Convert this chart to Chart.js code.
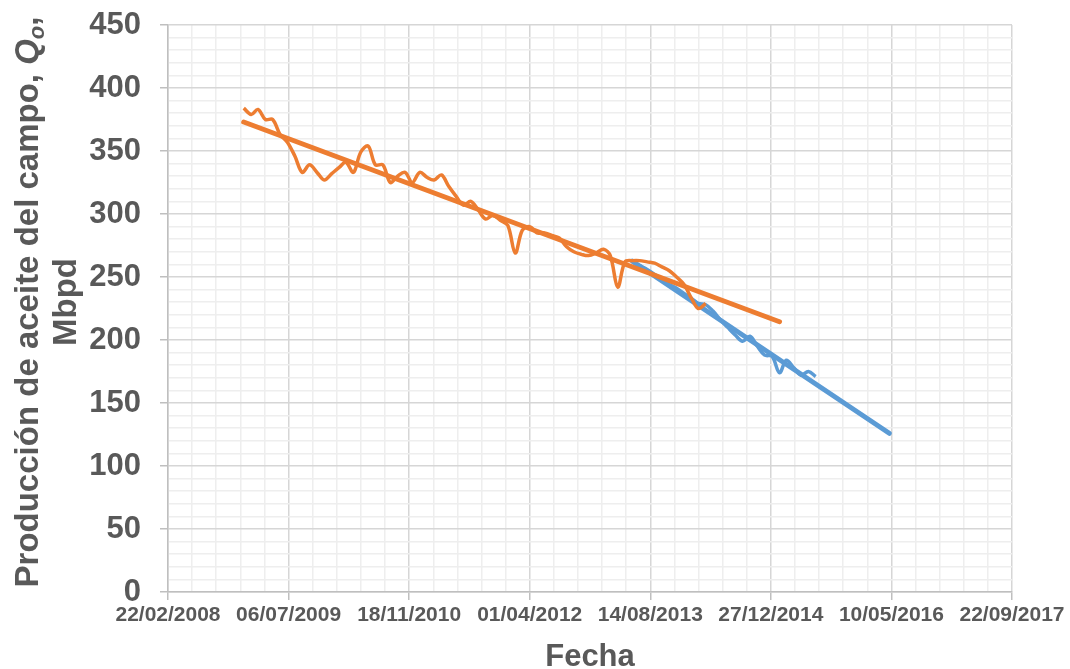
<!DOCTYPE html>
<html lang="es">
<head>
<meta charset="utf-8">
<title>Producción de aceite del campo</title>
<script src="https://cdn.jsdelivr.net/npm/chart.js@4.4.1/dist/chart.umd.min.js"></script>
<style>
    html, body { margin: 0; padding: 0; background: #fff; }
    #wrap { width: 1070px; height: 669px; }
</style>
</head>
<body>
<div id="wrap"><canvas id="prodChart" width="1070" height="669"></canvas></div>
<script>
/* ---------- ejes ---------- */
const xTickLabels = [
    "22/02/2008", "06/07/2009", "18/11/2010", "01/04/2012",
    "14/08/2013", "27/12/2014", "10/05/2016", "22/09/2017"
];
const yTicks = [0, 50, 100, 150, 200, 250, 300, 350, 400, 450];

/* ---------- producción mensual (Mbpd) ---------- */
const histMonths = [
    "2009-01", "2009-02", "2009-03", "2009-04", "2009-05", "2009-06", "2009-07", "2009-08", "2009-09", "2009-10", "2009-11", "2009-12",
    "2010-01", "2010-02", "2010-03", "2010-04", "2010-05", "2010-06", "2010-07", "2010-08", "2010-09", "2010-10", "2010-11", "2010-12",
    "2011-01", "2011-02", "2011-03", "2011-04", "2011-05", "2011-06", "2011-07", "2011-08", "2011-09", "2011-10", "2011-11", "2011-12",
    "2012-01", "2012-02", "2012-03", "2012-04", "2012-05", "2012-06", "2012-07", "2012-08", "2012-09", "2012-10", "2012-11", "2012-12",
    "2013-01", "2013-02", "2013-03", "2013-04", "2013-05", "2013-06", "2013-07", "2013-08", "2013-09", "2013-10", "2013-11", "2013-12",
    "2014-01", "2014-02", "2014-03", "2014-04"
];
const histValues = [
    384, 379, 383, 375, 375, 363, 357, 346, 333, 339, 333, 327,
    332, 337, 341, 333, 349, 354, 339, 339, 325, 330, 333, 325,
    333, 329, 327, 331, 322, 314, 307, 310, 303, 296, 299, 295,
    291, 269, 287, 290, 285, 285, 283, 281, 274, 270, 268, 267,
    269, 272, 267, 242, 262, 263, 263, 262, 261, 258, 255, 250,
    244, 233, 225, 229
];

const recentMonths = [
    "2013-06", "2013-07", "2013-08", "2013-09", "2013-10", "2013-11", "2013-12",
    "2014-01", "2014-02", "2014-03", "2014-04", "2014-05", "2014-06", "2014-07", "2014-08", "2014-09", "2014-10", "2014-11", "2014-12",
    "2015-01", "2015-02", "2015-03", "2015-04", "2015-05", "2015-06", "2015-07"
];
const recentValues = [
    262, 259, 256, 252, 248, 244, 241,
    237, 233, 229, 228, 223, 216, 210, 204, 199, 203, 195, 188,
    187, 174, 184, 178, 172, 175, 171
];

/* ---------- tendencias lineales ---------- */
const histTrendDates = ["2009-01-01", "2015-02-01"];
const histTrendValues = [373, 214.5];

const recentTrendDates = ["2013-06-01", "2016-05-01"];
const recentTrendValues = [262.5, 126];

/* ---------- estilo ---------- */
const ORANGE = "#ED7D31";
const BLUE = "#5B9BD5";
const TEXT = "#595959";
const FONT = '"Liberation Sans", Arial, sans-serif';

/* ---------- utilidades ---------- */
function dmy(s) {
    const [d, m, y] = s.split("/").map(Number);
    return Date.UTC(y, m - 1, d);
}

function ymd(s) {
    const [y, m, d] = s.split("-").map(Number);
    return Date.UTC(y, m - 1, d || 1);
}

function toPoints(dates, values) {
    return dates.map((d, i) => ({ x: ymd(d), y: values[i] }));
}

// marcas principales + divisiones menores entre cada par
function withMinor(mainValues, parts) {
    const ticks = [];
    mainValues.forEach((v, i) => {
        ticks.push({ value: v, main: true });
        if (i < mainValues.length - 1) {
            const step = (mainValues[i + 1] - v) / parts;
            for (let k = 1; k < parts; k++) ticks.push({ value: v + step * k, main: false });
        }
    });
    return ticks;
}

const gridStyle = {
    color: c => (c.tick && c.tick.main ? "#d6d6d6" : "#eeeeee"),
    lineWidth: 1.5,
    tickColor: c => (c.tick && c.tick.main ? "#bfbfbf" : "rgba(0,0,0,0)"),
    tickLength: 8
};

// el área de trazado la fija layout.padding, no el tamaño de las etiquetas
function fixBox(s, size) {
    if (s.isHorizontal()) s.height = size; else s.width = size;
    s.paddingTop = 0;
    s.paddingBottom = 0;
    s.paddingLeft = 0;
    s.paddingRight = 0;
}

/* ---------- títulos de los ejes ---------- */
const axisTitles = {
    id: "axisTitles",
    afterDraw(chart) {
        const ctx = chart.ctx;
        const area = chart.chartArea;
        ctx.save();
        ctx.fillStyle = TEXT;

        // Fecha
        ctx.font = "bold 31px " + FONT;
        ctx.textAlign = "center";
        ctx.textBaseline = "alphabetic";
        ctx.fillText("Fecha", (area.left + area.right) / 2, 666);

        // título vertical con Q subíndice o
        const parts = [
            { t: "Producción de aceite del campo, ", f: "bold 33px " + FONT, dy: 0 },
            { t: "Q", f: "italic bold 33px " + FONT, dy: 0 },
            { t: "o", f: "italic bold 22px " + FONT, dy: 6 },
            { t: ",", f: "bold 33px " + FONT, dy: 0 }
        ];
        ctx.translate(38, 302);
        ctx.rotate(-Math.PI / 2);
        ctx.textAlign = "left";
        let total = 0;
        parts.forEach(p => { ctx.font = p.f; total += ctx.measureText(p.t).width; });
        let x = -total / 2;
        parts.forEach(p => {
            ctx.font = p.f;
            ctx.fillText(p.t, x, p.dy);
            x += ctx.measureText(p.t).width;
        });

        ctx.font = "bold 33px " + FONT;
        ctx.textAlign = "center";
        ctx.fillText("Mbpd", 0, 38);
        ctx.restore();
    }
};

/* ---------- gráfica ---------- */
const xMain = xTickLabels.map(dmy);

new Chart(document.getElementById("prodChart"), {
    type: "line",
    data: {
        datasets: [
            {
                label: "Producción",
                data: toPoints(histMonths, histValues),
                borderColor: ORANGE,
                borderWidth: 3.5,
                tension: 0.35,
                pointRadius: 0
            },
            {
                label: "Tendencia",
                data: toPoints(histTrendDates, histTrendValues),
                borderColor: ORANGE,
                borderWidth: 5,
                borderCapStyle: "round",
                pointRadius: 0
            },
            {
                label: "Producción reciente",
                data: toPoints(recentMonths, recentValues),
                borderColor: BLUE,
                borderWidth: 3.5,
                tension: 0.35,
                pointRadius: 0
            },
            {
                label: "Tendencia reciente",
                data: toPoints(recentTrendDates, recentTrendValues),
                borderColor: BLUE,
                borderWidth: 5,
                borderCapStyle: "round",
                pointRadius: 0
            }
        ]
    },
    options: {
        responsive: false,
        animation: false,
        layout: { padding: { top: 25, right: 58, left: 0, bottom: 0 } },
        plugins: { legend: { display: false }, tooltip: { enabled: false } },
        scales: {
            x: {
                type: "linear",
                min: xMain[0],
                max: xMain[xMain.length - 1],
                afterBuildTicks: s => { s.ticks = withMinor(xMain, 5); },
                afterFit: s => fixBox(s, 77),
                grid: gridStyle,
                border: { color: "#bfbfbf", width: 1.5 },
                ticks: {
                    autoSkip: false,
                    maxRotation: 0,
                    padding: 3,
                    color: TEXT,
                    font: { family: FONT, size: 21, weight: "bold" },
                    callback: (v, i, ticks) => (ticks[i].main ? xTickLabels[i / 5] : "")
                }
            },
            y: {
                min: yTicks[0],
                max: yTicks[yTicks.length - 1],
                afterBuildTicks: s => { s.ticks = withMinor(yTicks, 5); },
                afterFit: s => fixBox(s, 168),
                grid: gridStyle,
                border: { color: "#bfbfbf", width: 1.5 },
                ticks: {
                    autoSkip: false,
                    padding: 19,
                    color: TEXT,
                    font: { family: FONT, size: 31, weight: "bold" },
                    callback: (v, i, ticks) => (ticks[i].main ? v : "")
                }
            }
        }
    },
    plugins: [axisTitles]
});
</script>
</body>
</html>
